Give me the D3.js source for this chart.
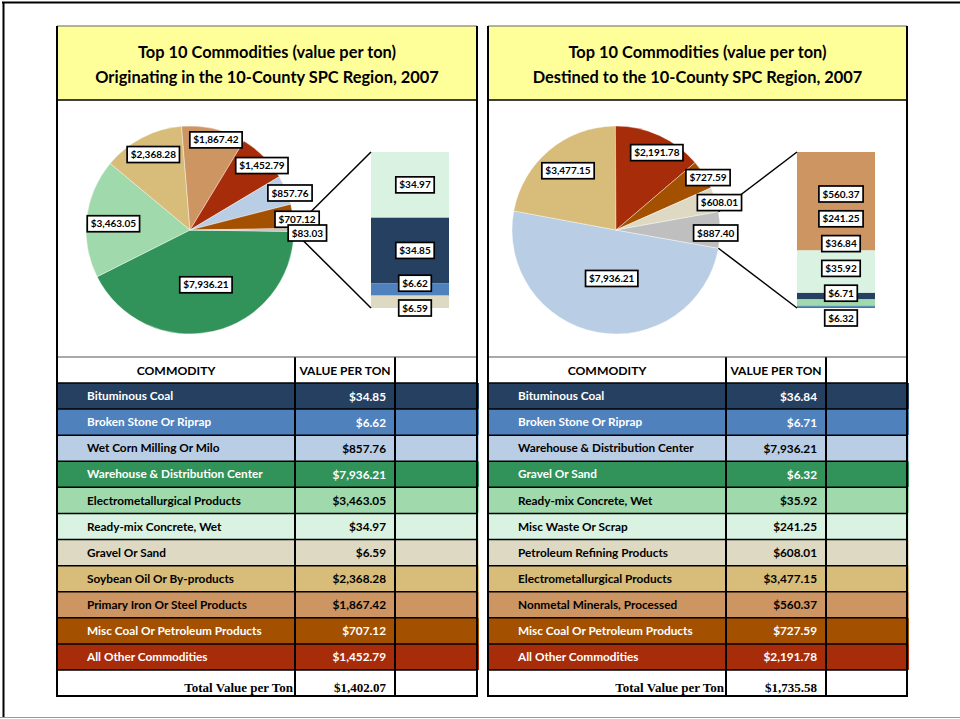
<!DOCTYPE html>
<html>
<head>
<meta charset="utf-8">
<script src="https://cdn.jsdelivr.net/npm/d3@7"></script>
<style>
  body { margin: 0; background: #fff; }
  svg { display: block; font-family: Lato, "Open Sans", sans-serif; }
</style>
</head>
<body>
<svg id="chart" width="960" height="719"></svg>
<script>
// row colours, same order in both tables
const palette = ['#254061', '#4F81BD', '#B9CDE5', '#31935A', '#9FD9AC', '#D9F2E2',
  '#DDD9C3', '#D8BC79', '#CD9562', '#A35100', '#A72D0A'];
const whiteTextRows = [0, 1, 3, 9, 10];
const otherColor = '#BFBFBF';

// originating
const titlesOrig = ['Top 10 Commodities (value per ton)', 'Originating in the 10-County SPC Region, 2007'];
const commoditiesOrig = ['Bituminous Coal', 'Broken Stone Or Riprap', 'Wet Corn Milling Or Milo',
  'Warehouse & Distribution Center', 'Electrometallurgical Products', 'Ready-mix Concrete, Wet',
  'Gravel Or Sand', 'Soybean Oil Or By-products', 'Primary Iron Or Steel Products',
  'Misc Coal Or Petroleum Products', 'All Other Commodities'];
const valuesOrig = [34.85, 6.62, 857.76, 7936.21, 3463.05, 34.97, 6.59, 2368.28, 1867.42, 707.12, 1452.79];
const totalOrig = 1402.07;
const pieOrderOrig = [3, 4, 7, 8, 10, 2, 9];   // table rows shown in the pie, clockwise
const barOrderOrig = [5, 0, 1, 6];             // rows in the "other" bar, top to bottom
const otherOrig = 83.03;

// destined
const titlesDest = ['Top 10 Commodities (value per ton)', 'Destined to the 10-County SPC Region, 2007'];
const commoditiesDest = ['Bituminous Coal', 'Broken Stone Or Riprap', 'Warehouse & Distribution Center',
  'Gravel Or Sand', 'Ready-mix Concrete, Wet', 'Misc Waste Or Scrap', 'Petroleum Refining Products',
  'Electrometallurgical Products', 'Nonmetal Minerals, Processed', 'Misc Coal Or Petroleum Products',
  'All Other Commodities'];
const valuesDest = [36.84, 6.71, 7936.21, 6.32, 35.92, 241.25, 608.01, 3477.15, 560.37, 727.59, 2191.78];
const totalDest = 1735.58;
const pieOrderDest = [2, 7, 10, 9, 6];
const barOrderDest = [8, 5, 0, 4, 1, 3];
const otherDest = 887.40;

const fmt = d3.format('$,.2f');
const svg = d3.select('#chart');

// outer frame
svg.append('line').attr('x1', 2).attr('x2', 960).attr('y1', 2.5).attr('y2', 2.5)
  .attr('stroke', '#000').attr('stroke-width', 2);
svg.append('line').attr('x1', 3.5).attr('x2', 3.5).attr('y1', 2).attr('y2', 717)
  .attr('stroke', '#000').attr('stroke-width', 2);
svg.append('line').attr('x1', 0).attr('x2', 960).attr('y1', 717.5).attr('y2', 717.5)
  .attr('stroke', '#999').attr('stroke-width', 1);

const L = {titleTop: 26, titleBottom: 100, pieBottom: 357, headBottom: 383, rowsBottom: 670,
  tableBottom: 696, col1: 238, col2: 338, cy: 230, r: 104, barGap: 181, barW: 78,
  barTop: 152, barBottom: 308};

const panels = [
  {x0: 57, x1: 477, cxOff: 133, titles: titlesOrig, names: commoditiesOrig, values: valuesOrig,
    total: totalOrig, pieOrder: pieOrderOrig, barOrder: barOrderOrig, other: otherOrig},
  {x0: 488, x1: 907, cxOff: 128, titles: titlesDest, names: commoditiesDest, values: valuesDest,
    total: totalDest, pieOrder: pieOrderDest, barOrder: barOrderDest, other: otherDest}
];

function labelBox(g, x, y, txt) {
  const lg = g.append('g').attr('transform', `translate(${x},${y})`);
  const rect = lg.append('rect').attr('fill', '#fff').attr('stroke', '#000').attr('stroke-width', 1.7);
  const t = lg.append('text').attr('text-anchor', 'middle').attr('dy', '0.36em')
    .attr('font-size', 10).attr('font-weight', 'bold').attr('fill', '#000').text(txt);
  const w = t.node().getComputedTextLength() + 7;
  rect.attr('x', -w / 2).attr('y', -8).attr('width', w).attr('height', 16);
}

// push overlapping labels apart, keep the lowest one near the bar bottom
function spread(ys, gap, maxY) {
  for (let k = 0; k < 60; k++) {
    for (let i = 0; i < ys.length - 1; i++) {
      const d = ys[i + 1] - ys[i];
      if (d < gap) { ys[i] -= (gap - d) / 2; ys[i + 1] += (gap - d) / 2; }
    }
  }
  const n = ys.length;
  if (ys[n - 1] > maxY) ys[n - 1] = maxY;
  for (let i = n - 2; i >= 0; i--) ys[i] = Math.min(ys[i], ys[i + 1] - gap);
  return ys;
}

function labelRadius(a0, a1, r) {
  const sweep = a1 - a0, deg = sweep * 180 / Math.PI;
  if (deg >= 120) return 4 * r * Math.sin(sweep / 2) / (3 * sweep) * 1.05;
  if (deg >= 60) return 0.78 * r;
  if (deg >= 40) return 0.85 * r;
  if (deg >= 20) return 0.92 * r;
  if (deg >= 5) return 1.0 * r;
  return 1.09 * r;
}

function drawPanel(p) {
  const g = svg.append('g');
  const w = p.x1 - p.x0, mid = (p.x0 + p.x1) / 2;

  // title
  g.append('rect').attr('x', p.x0).attr('y', L.titleTop).attr('width', w)
    .attr('height', L.titleBottom - L.titleTop).attr('fill', '#FFFF99');
  g.selectAll('text.title').data(p.titles).join('text').attr('class', 'title')
    .attr('x', mid).attr('y', (d, i) => 57.5 + i * 25.5).attr('text-anchor', 'middle')
    .attr('font-size', 16.4).attr('font-weight', 'bold').attr('fill', '#000').text(d => d);

  // pie
  const cx = p.x0 + p.cxOff, cy = L.cy, r = L.r;
  const slices = p.pieOrder.map(i => ({value: p.values[i], color: palette[i]}))
    .concat([{value: p.other, color: otherColor, other: true}]);
  const sum = d3.sum(slices, d => d.value);
  const otherSweep = 2 * Math.PI * p.other / sum;
  const start = Math.PI / 2 + otherSweep / 2;
  const arcs = d3.pie().sort(null).value(d => d.value)
    .startAngle(start).endAngle(start + 2 * Math.PI)(slices);
  const arc = d3.arc().innerRadius(0).outerRadius(r);
  const pg = g.append('g').attr('transform', `translate(${cx},${cy})`);
  pg.selectAll('path').data(arcs).join('path').attr('d', arc)
    .attr('fill', d => d.data.color).attr('stroke', '#fff').attr('stroke-width', 0.4);

  // bar of the "other" slice
  const barItems = p.barOrder.map(i => ({value: p.values[i], color: palette[i]}));
  const y = d3.scaleLinear().domain([0, d3.sum(barItems, d => d.value)]).range([L.barTop, L.barBottom]);
  let acc = 0;
  barItems.forEach(d => { d.y0 = acc; acc += d.value; d.y1 = acc; });
  const bx = cx + L.barGap;
  g.selectAll('rect.bar').data(barItems).join('rect').attr('class', 'bar')
    .attr('x', bx).attr('width', L.barW)
    .attr('y', d => y(d.y0)).attr('height', d => y(d.y1) - y(d.y0)).attr('fill', d => d.color);

  // connector lines
  const oa = arcs[arcs.length - 1];
  const pt = a => [cx + Math.sin(a) * r, cy - Math.cos(a) * r];
  const top = pt(oa.startAngle), bot = pt(oa.endAngle);
  g.append('line').attr('x1', top[0]).attr('y1', top[1]).attr('x2', bx).attr('y2', y(0))
    .attr('stroke', '#000').attr('stroke-width', 1.5);
  g.append('line').attr('x1', bot[0]).attr('y1', bot[1]).attr('x2', bx).attr('y2', y(acc))
    .attr('stroke', '#000').attr('stroke-width', 1.5);

  // pie labels (Excel anchors them slightly right/below the computed point)
  arcs.forEach(a => {
    const m = (a.startAngle + a.endAngle) / 2;
    const lr = labelRadius(a.startAngle, a.endAngle, r);
    labelBox(g, cx + Math.sin(m) * lr + 4, cy - Math.cos(m) * lr + 3, fmt(a.data.value));
  });

  // bar labels
  const ys = spread(barItems.map(d => (y(d.y0) + y(d.y1)) / 2), 24.8, L.barBottom + 10);
  barItems.forEach((d, i) => labelBox(g, bx + L.barW / 2 + 5, ys[i], fmt(d.value)));

  // table
  const rows = d3.scaleBand().domain(d3.range(p.names.length)).range([L.headBottom, L.rowsBottom]);
  const c1 = p.x0 + L.col1, c2 = p.x0 + L.col2;
  g.selectAll('rect.row').data(p.names).join('rect').attr('class', 'row')
    .attr('x', p.x0).attr('width', w + 2).attr('y', (d, i) => rows(i)).attr('height', rows.bandwidth())
    .attr('fill', (d, i) => palette[i]);
  const txtColor = i => whiteTextRows.includes(i) ? '#fff' : '#000';
  g.selectAll('text.name').data(p.names).join('text').attr('class', 'name')
    .attr('x', p.x0 + 30).attr('y', (d, i) => rows(i) + rows.bandwidth() / 2).attr('dy', '0.35em')
    .attr('font-size', 11.8).attr('font-weight', 'bold').attr('fill', (d, i) => txtColor(i)).text(d => d);
  g.selectAll('text.val').data(p.values).join('text').attr('class', 'val')
    .attr('x', c2 - 9).attr('y', (d, i) => rows(i) + rows.bandwidth() / 2).attr('dy', '0.38em')
    .attr('text-anchor', 'end').attr('font-size', 11.8).attr('font-weight', 'bold')
    .attr('fill', (d, i) => txtColor(i)).text(d => fmt(d));

  // header
  const hy = (L.pieBottom + L.headBottom) / 2;
  g.append('text').attr('x', (p.x0 + c1) / 2).attr('y', hy).attr('dy', '0.4em').attr('text-anchor', 'middle')
    .attr('font-size', 12.2).attr('font-weight', 'bold').text('COMMODITY');
  g.append('text').attr('x', (c1 + c2) / 2).attr('y', hy).attr('dy', '0.45em').attr('text-anchor', 'middle')
    .attr('font-size', 12).attr('font-weight', 'bold').text('VALUE PER TON');

  // total row
  g.append('text').attr('x', c1 - 2).attr('y', L.tableBottom - 4.5).attr('text-anchor', 'end')
    .attr('font-family', '"Liberation Serif", serif').attr('font-size', 13).attr('font-weight', 'bold')
    .text('Total Value per Ton');
  g.append('text').attr('x', c2 - 9).attr('y', L.tableBottom - 4.5).attr('text-anchor', 'end')
    .attr('font-family', '"Liberation Serif", serif').attr('font-size', 13).attr('font-weight', 'bold')
    .text(fmt(p.total));

  // grid
  const hl = d3.range(p.names.length + 1).map(i => rows(i) !== undefined ? rows(i) : L.rowsBottom);
  g.selectAll('line.h').data(hl).join('line').attr('class', 'h')
    .attr('x1', p.x0).attr('x2', p.x1).attr('y1', d => d).attr('y2', d => d)
    .attr('stroke', '#000').attr('stroke-width', 1.5);
  g.selectAll('line.v').data([c1, c2]).join('line').attr('class', 'v')
    .attr('x1', d => d).attr('x2', d => d).attr('y1', L.pieBottom).attr('y2', L.tableBottom)
    .attr('stroke', '#000').attr('stroke-width', 2);
  g.append('line').attr('x1', p.x0).attr('x2', p.x1).attr('y1', L.pieBottom).attr('y2', L.pieBottom)
    .attr('stroke', '#555').attr('stroke-width', 1.2);
  g.append('line').attr('x1', p.x0).attr('x2', p.x1).attr('y1', L.titleBottom).attr('y2', L.titleBottom)
    .attr('stroke', '#000').attr('stroke-width', 1.5);
  g.append('line').attr('x1', p.x0).attr('x2', p.x1).attr('y1', L.titleTop).attr('y2', L.titleTop)
    .attr('stroke', '#666').attr('stroke-width', 1.2);
  g.append('line').attr('x1', p.x0 - 1).attr('x2', p.x1 + 1).attr('y1', L.tableBottom).attr('y2', L.tableBottom)
    .attr('stroke', '#000').attr('stroke-width', 2.2);
  g.selectAll('line.side').data([p.x0, p.x1]).join('line').attr('class', 'side')
    .attr('x1', d => d).attr('x2', d => d).attr('y1', L.titleTop).attr('y2', L.tableBottom + 1)
    .attr('stroke', '#000').attr('stroke-width', 2);
}

panels.forEach(drawPanel);
</script>
</body>
</html>
